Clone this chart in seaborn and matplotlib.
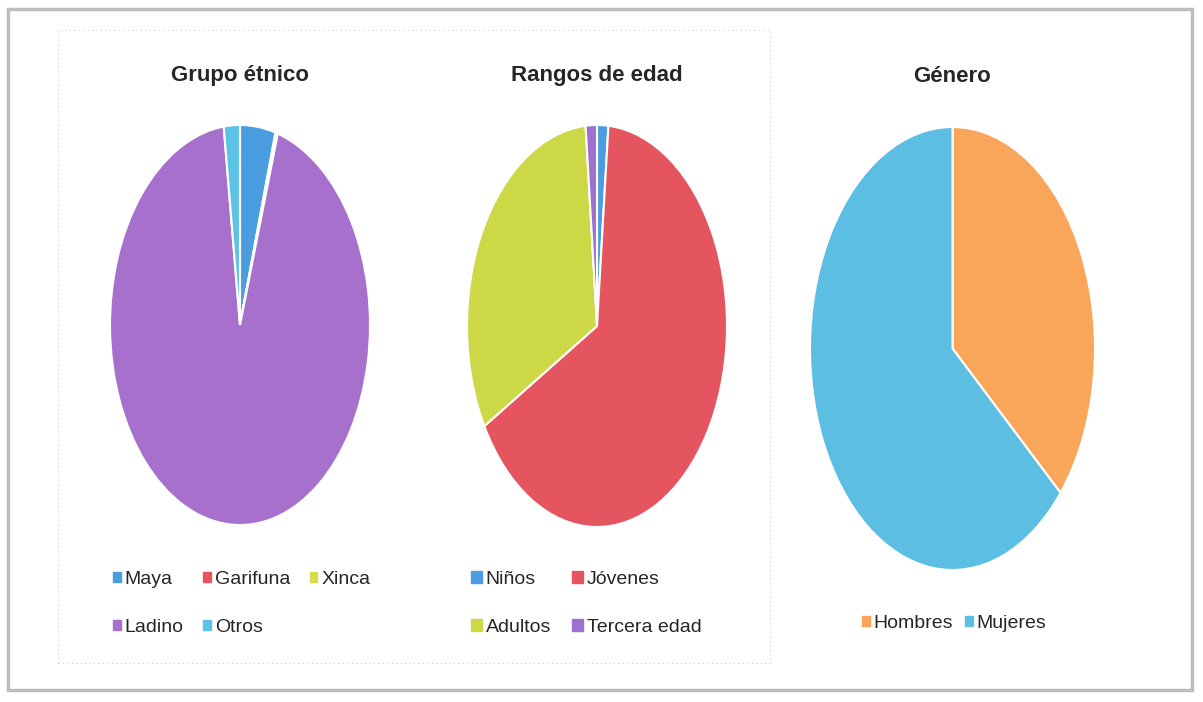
import matplotlib
matplotlib.use("Agg")
import matplotlib.pyplot as plt
from matplotlib.patches import Rectangle
import seaborn as sns

# datos (porcentajes aproximados)
etnia_labels = ["Maya", "Garifuna", "Xinca", "Ladino", "Otros"]
etnia_vals = [4.4, 0.15, 0.15, 93.3, 2.0]
etnia_colors = ["#4A9EE0", "#E4555F", "#D9DB4A", "#A670CC", "#5CC3E6"]

edad_labels = ["Niños", "Jóvenes", "Adultos", "Tercera edad"]
edad_vals = [1.4, 65.3, 31.9, 1.4]
edad_colors = ["#4D9BE0", "#E4555F", "#CDD847", "#9C71CF"]

genero_labels = ["Hombres", "Mujeres"]
genero_vals = [36.3, 63.7]
genero_colors = ["#F9A55A", "#5CBEE3"]

sns.set_style("white")
plt.rcParams["font.family"] = ["Liberation Sans Narrow", "Liberation Sans", "DejaVu Sans"]

fig = plt.figure(figsize=(12.03, 7.02), dpi=100)
W, H = 1203, 702

def px_axes(x0, y0, x1, y1):
    # convierte pixeles (origen arriba-izquierda) a coordenadas de figura
    return fig.add_axes([x0 / W, 1 - y1 / H, (x1 - x0) / W, (y1 - y0) / H])

def pastel(ax, vals, colors):
    ax.pie(vals, colors=colors, startangle=90, counterclock=False,
           wedgeprops=dict(edgecolor="white", linewidth=1.5))
    ax.set_aspect("auto")
    ax.set_xlim(-1.0, 1.0)
    ax.set_ylim(-1.0, 1.0)
    ax.axis("off")

ax1 = px_axes(110, 125, 370, 525)
pastel(ax1, etnia_vals, etnia_colors)
ax2 = px_axes(467, 125, 727, 527)
pastel(ax2, edad_vals, edad_colors)
ax3 = px_axes(810, 127, 1095, 570)
pastel(ax3, genero_vals, genero_colors)

# titulos
for txt, xc in [("Grupo étnico", 240), ("Rangos de edad", 597), ("Género", 952)]:
    fig.text(xc / W, 1 - 76 / H, txt, ha="center", va="center",
             fontsize=16, fontweight="bold", color="#262626")

def leyenda(ax, labels, colors, orden, x, y, ncol, colsp, msize):
    # matplotlib llena por columnas, reordenamos para que quede por filas
    handles = [Rectangle((0, 0), 1, 1, color=colors[i]) for i in orden]
    labs = [labels[i] for i in orden]
    leg = ax.legend(handles, labs, loc="upper left", ncol=ncol,
                    bbox_to_anchor=(x / W, 1 - y / H), bbox_transform=fig.transFigure,
                    frameon=False, fontsize=14, handlelength=msize, handleheight=msize,
                    handletextpad=0.2, columnspacing=colsp, labelspacing=1.6,
                    borderpad=0, borderaxespad=0)
    for t in leg.get_texts():
        t.set_color("#262626")
    return leg

leyenda(ax1, etnia_labels, etnia_colors, [0, 3, 1, 4, 2], 113, 571, 3, 1.0, 0.4)
leyenda(ax2, edad_labels, edad_colors, [0, 2, 1, 3], 471, 571, 2, 1.1, 0.55)
leyenda(ax3, genero_labels, genero_colors, [0, 1], 862, 615, 2, 0.6, 0.4)

# marco punteado tenue y borde del escaneo
fig.patches.append(Rectangle((58 / W, 1 - 663 / H), (770 - 58) / W, (663 - 30) / H,
                             transform=fig.transFigure, fill=False, edgecolor="#d0d0d0",
                             linestyle=(0, (1, 3)), linewidth=0.8))
fig.patches.append(Rectangle((8 / W, 1 - 690 / H), (1192 - 8) / W, (690 - 9) / H,
                             transform=fig.transFigure, fill=False, edgecolor="#bdbdbd",
                             linewidth=2.5))

fig.savefig("out.png", dpi=100, facecolor="white")
